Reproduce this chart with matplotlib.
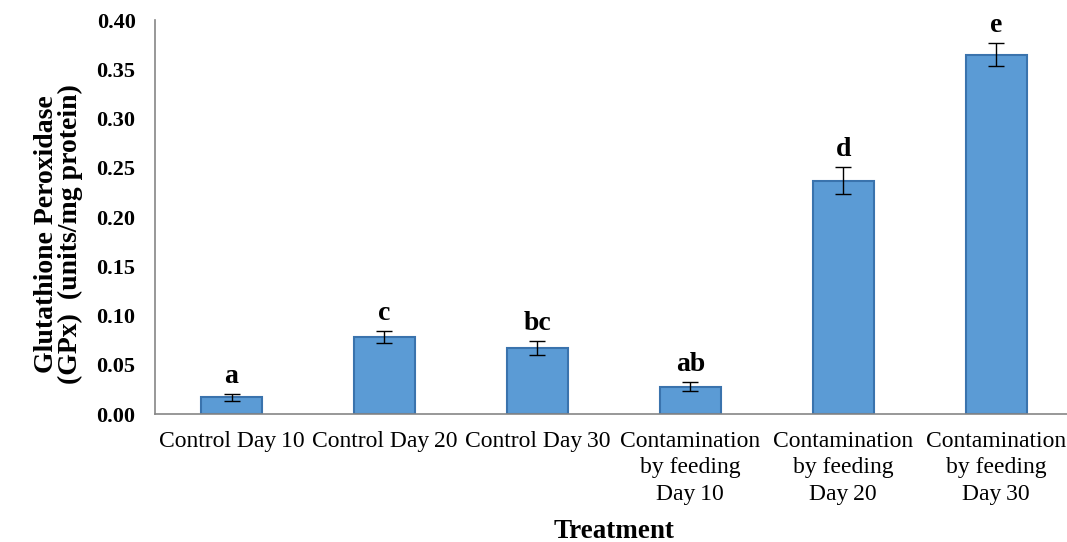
import matplotlib.pyplot as plt
import numpy as np

categories = ["Control Day\u200910", "Control Day\u200920", "Control Day\u200930",
              "Contamination\nby feeding\nDay\u200910", "Contamination\nby feeding\nDay\u200920",
              "Contamination\nby feeding\nDay\u200930"]
gpx = [0.017, 0.078, 0.067, 0.028, 0.237, 0.365]
err = [0.0035, 0.006, 0.007, 0.005, 0.0135, 0.012]
letters = ["a", "c", "bc", "ab", "d", "e"]

plt.rcParams['font.family'] = ['Liberation Serif', 'DejaVu Serif']

fig = plt.figure(figsize=(10.67, 5.42), dpi=100)
ax = fig.add_axes([0.1453, 0.236, 0.86, 0.727])

x = np.arange(len(categories))
ax.bar(x, gpx, width=0.4, color='#5B9BD5', edgecolor='#3A73AD', linewidth=1.5, zorder=2)
ax.errorbar(x, gpx, yerr=err, fmt='none', ecolor='black', elinewidth=1, capsize=6, capthick=1, zorder=3)

for xi, v, e, lab in zip(x, gpx, err, letters):
    ax.text(xi, v + e + 0.005, lab, ha='center', va='bottom', fontsize=20, fontweight='bold')

ax.set_xlim(-0.5, 5.5)
ax.set_ylim(0, 0.40)
ax.set_yticks(np.arange(0, 0.401, 0.05))
ax.set_yticklabels([f"{t:.2f}" for t in np.arange(0, 0.401, 0.05)], fontsize=16, fontweight='bold')
ax.set_xticks(x)
ax.set_xticklabels(categories, fontsize=17, linespacing=1.35)
ax.tick_params(axis='y', length=0, pad=14)
ax.tick_params(axis='x', length=0, pad=12)

for s in ['top', 'right']:
    ax.spines[s].set_visible(False)
for s in ['left', 'bottom']:
    ax.spines[s].set_color('#868686')
    ax.spines[s].set_linewidth(1.2)

ax.set_ylabel("Glutathione Peroxidase\n(GPx)  (units/mg protein)", fontsize=20, fontweight='bold',
              linespacing=0.95, va='center', ha='center')
ax.yaxis.set_label_coords(-0.105, 0.457)
ax.set_xlabel("Treatment", fontsize=19.5, fontweight='bold', va='center')
ax.xaxis.set_label_coords(0.5, -0.297)

fig.savefig("out.png", dpi=100)
